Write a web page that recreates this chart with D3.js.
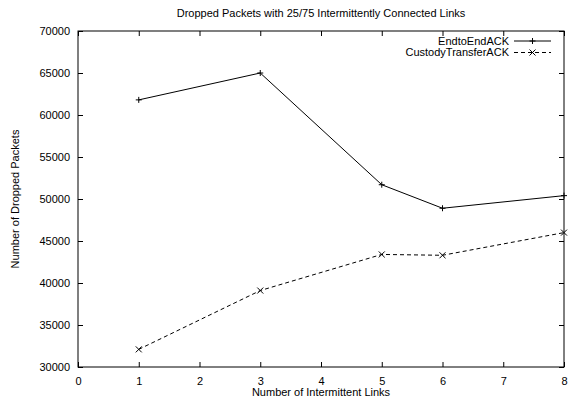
<!DOCTYPE html>
<html>
<head>
<meta charset="utf-8">
<script src="https://cdn.jsdelivr.net/npm/d3@7"></script>
<style>
  body { margin: 0; background: #fff; }
  svg { display: block; font-family: "Liberation Sans", Arial, sans-serif; }
</style>
</head>
<body>
<div id="chart"></div>
<script>
// --- data ---
const xValues = [1, 3, 5, 6, 8];
const endToEnd = [61800, 65000, 51700, 48900, 50400];
const custody = [32100, 39100, 43400, 43300, 46000];
const seriesNames = ["EndtoEndACK", "CustodyTransferACK"];
const xTicks = [0, 1, 2, 3, 4, 5, 6, 7, 8];
const yTicks = [30000, 35000, 40000, 45000, 50000, 55000, 60000, 65000, 70000];

const W = 568, H = 400;
const margin = { top: 31, right: 4, bottom: 33, left: 78 };
const innerW = W - margin.left - margin.right;
const innerH = H - margin.top - margin.bottom;

const svg = d3.select("#chart").append("svg")
  .attr("width", W)
  .attr("height", H);

const g = svg.append("g").attr("transform", `translate(${margin.left},${margin.top})`);

const x = d3.scaleLinear().domain([0, 8]).range([0, innerW]);
const y = d3.scaleLinear().domain([30000, 70000]).range([innerH, 0]);

const tick = 5;

// frame
g.append("rect")
  .attr("width", innerW).attr("height", innerH)
  .attr("fill", "none").attr("stroke", "#000").attr("stroke-width", 1);

// ticks, mirrored on all sides (gnuplot style)
g.append("g")
  .attr("transform", `translate(0,${innerH})`)
  .call(d3.axisBottom(x).tickValues(xTicks).tickSize(-tick).tickPadding(10).tickFormat(d3.format("d")))
  .call(ax => ax.select(".domain").remove());
g.append("g")
  .call(d3.axisTop(x).tickValues(xTicks).tickSize(-tick).tickFormat(""))
  .call(ax => ax.select(".domain").remove());
g.append("g")
  .call(d3.axisLeft(y).tickValues(yTicks).tickSize(-tick).tickPadding(8).tickFormat(d3.format("d")))
  .call(ax => ax.select(".domain").remove());
g.append("g")
  .attr("transform", `translate(${innerW},0)`)
  .call(d3.axisRight(y).tickValues(yTicks).tickSize(-tick).tickFormat(""))
  .call(ax => ax.select(".domain").remove());

g.selectAll(".tick text").attr("font-size", 11).attr("fill", "#000").attr("font-family", "Liberation Sans, Arial, sans-serif");
g.selectAll(".tick line").attr("stroke", "#000");

// lines
const line = d3.line().x(d => x(d[0])).y(d => y(d[1]));
const e2e = xValues.map((v, i) => [v, endToEnd[i]]);
const cst = xValues.map((v, i) => [v, custody[i]]);

g.append("path").datum(e2e)
  .attr("d", line).attr("fill", "none").attr("stroke", "#000").attr("stroke-width", 1);
g.append("path").datum(cst)
  .attr("d", line).attr("fill", "none").attr("stroke", "#000").attr("stroke-width", 1)
  .attr("stroke-dasharray", "4,3");

const m = 3;
function plus(sel, cx, cy) {
  sel.append("path").attr("d", `M${cx - m},${cy}H${cx + m}M${cx},${cy - m}V${cy + m}`)
    .attr("stroke", "#000").attr("stroke-width", 1);
}
function cross(sel, cx, cy) {
  sel.append("path").attr("d", `M${cx - m},${cy - m}L${cx + m},${cy + m}M${cx - m},${cy + m}L${cx + m},${cy - m}`)
    .attr("stroke", "#000").attr("stroke-width", 1);
}
e2e.forEach(d => plus(g, x(d[0]), y(d[1])));
cst.forEach(d => cross(g, x(d[0]), y(d[1])));

// legend
const leg = g.append("g").attr("transform", `translate(${innerW - 50},0)`);
[0, 1].forEach(i => {
  const ly = 10 + i * 11.5;
  leg.append("text")
    .attr("x", -5).attr("y", ly).attr("dy", "0.35em")
    .attr("text-anchor", "end").attr("font-size", 11)
    .text(seriesNames[i]);
  leg.append("line")
    .attr("x1", 0).attr("x2", 37).attr("y1", ly).attr("y2", ly)
    .attr("stroke", "#000")
    .attr("stroke-dasharray", i === 1 ? "4,3" : null);
  if (i === 0) plus(leg, 18.5, ly); else cross(leg, 18.5, ly);
});

// title and axis labels
svg.append("text")
  .attr("x", margin.left + innerW / 2).attr("y", 17)
  .attr("text-anchor", "middle").attr("font-size", 11)
  .text("Dropped Packets with 25/75 Intermittently Connected Links");
svg.append("text")
  .attr("x", margin.left + innerW / 2).attr("y", 396)
  .attr("text-anchor", "middle").attr("font-size", 11)
  .text("Number of Intermittent Links");
svg.append("text")
  .attr("transform", `translate(19,${margin.top + innerH / 2}) rotate(-90)`)
  .attr("text-anchor", "middle").attr("font-size", 11)
  .text("Number of Dropped Packets");
</script>
</body>
</html>
